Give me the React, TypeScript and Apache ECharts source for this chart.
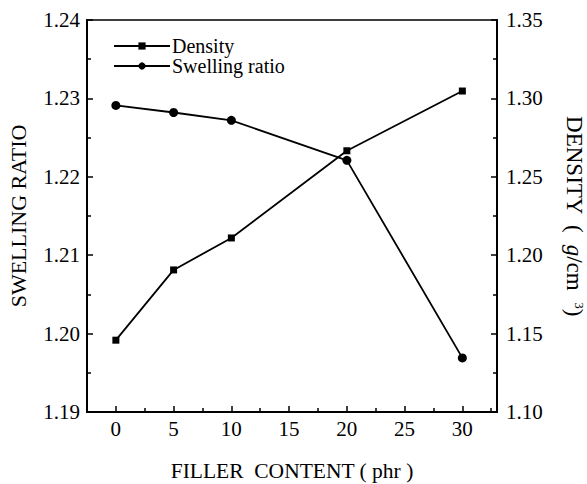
import React, { useEffect, useRef } from "react";
import * as echarts from "echarts";

const fillerContent = [0, 5, 10, 20, 30];
const swellingRatio = [1.2291, 1.2282, 1.2272, 1.2221, 1.1969];
const density = [1.1458, 1.1906, 1.211, 1.2666, 1.3047];
const xMajorTicks = [0, 5, 10, 15, 20, 25, 30];
const xMinorTicks = [2.5, 7.5, 12.5, 17.5, 22.5, 27.5, 32.5];

const FONT = "Liberation Serif";

export default function App() {
  const ref = useRef<HTMLDivElement>(null);
  useEffect(() => {
    if (!ref.current) return;
    const chart = echarts.init(ref.current, null, { renderer: "svg" });
    const axisLine = { show: true, onZero: false, lineStyle: { color: "#000", width: 2 } };
    const label = { color: "#000", fontSize: 21, fontFamily: FONT };
    chart.setOption({
      animation: false,
      backgroundColor: "#fff",
      textStyle: { fontFamily: FONT, color: "#000" },
      grid: {
        left: 87,
        right: 90,
        top: 20,
        bottom: 72,
        show: true,
        borderColor: "#000",
        borderWidth: 1.5,
        containLabel: false,
        outerBoundsMode: "none",
      },
      legend: {
        left: 108,
        top: 31,
        orient: "vertical",
        itemWidth: 56,
        itemHeight: 9,
        itemGap: 0,
        textStyle: { fontSize: 20, lineHeight: 20, fontFamily: FONT, color: "#000", padding: [0, 0, 0, -3] },
        data: ["Density", "Swelling ratio"],
      },
      xAxis: [
        {
          type: "value",
          min: -2.5,
          max: 33,
          position: "bottom",
          name: "FILLER  CONTENT ( phr )",
          nameLocation: "middle",
          nameGap: 48,
          nameTextStyle: { fontSize: 21.5, fontFamily: FONT, color: "#000" },
          axisLine,
          splitLine: { show: false },
          axisTick: { show: true, inside: true, length: 6, customValues: xMajorTicks, lineStyle: { color: "#000", width: 1.5 } },
          axisLabel: { ...label, margin: 6, customValues: xMajorTicks, formatter: (v: number) => String(v) },
        },
        {
          type: "value",
          min: -2.5,
          max: 33,
          position: "bottom",
          offset: 0,
          axisLine: { show: false },
          splitLine: { show: false },
          axisTick: { show: true, inside: true, length: 4, customValues: xMinorTicks, lineStyle: { color: "#000", width: 1.5 } },
          axisLabel: { show: false },
        },
      ],
      yAxis: [
        {
          type: "value",
          min: 1.19,
          max: 1.24,
          interval: 0.01,
          position: "left",
          name: "SWELLING RATIO",
          nameLocation: "middle",
          nameGap: 58,
          nameTextStyle: { fontSize: 22, fontFamily: FONT, color: "#000" },
          axisLine,
          splitLine: { show: false },
          axisTick: { show: true, inside: true, length: 6, lineStyle: { color: "#000", width: 1.5 } },
          minorTick: { show: true, splitNumber: 2, length: 4, lineStyle: { color: "#000", width: 1.5 } },
          axisLabel: { ...label, margin: 7, formatter: (v: number) => v.toFixed(2) },
        },
        {
          type: "value",
          min: 1.1,
          max: 1.35,
          interval: 0.05,
          position: "right",
          name: "DENSITY  (  {i|g}/cm  {sup|3})",
          nameLocation: "middle",
          nameGap: 66,
          nameRotate: -90,
          nameTextStyle: {
            fontSize: 23,
            fontFamily: FONT,
            color: "#000",
            rich: {
              i: { fontSize: 23, fontFamily: FONT, fontStyle: "italic", color: "#000" },
              sup: { fontSize: 13, fontFamily: FONT, color: "#000", verticalAlign: "top", padding: [0, 0, 6, 0] },
            },
          },
          axisLine,
          splitLine: { show: false },
          axisTick: { show: true, inside: true, length: 6, lineStyle: { color: "#000", width: 1.5 } },
          minorTick: { show: true, splitNumber: 2, length: 4, lineStyle: { color: "#000", width: 1.5 } },
          axisLabel: { ...label, margin: 9, formatter: (v: number) => v.toFixed(2) },
        },
      ],
      series: [
        {
          name: "Density",
          type: "line",
          xAxisIndex: 0,
          yAxisIndex: 1,
          symbol: "rect",
          symbolSize: 7,
          data: fillerContent.map((x, i) => [x, density[i]]),
          lineStyle: { color: "#000", width: 1.8 },
          itemStyle: { color: "#000" },
        },
        {
          name: "Swelling ratio",
          type: "line",
          xAxisIndex: 0,
          yAxisIndex: 0,
          symbol: "circle",
          symbolSize: 9,
          data: fillerContent.map((x, i) => [x, swellingRatio[i]]),
          lineStyle: { color: "#000", width: 1.8 },
          itemStyle: { color: "#000" },
        },
      ],
    });
    return () => chart.dispose();
  }, []);
  return <div ref={ref} style={{ width: 587, height: 484, position: "absolute", left: 0, top: 0 }} />;
}
